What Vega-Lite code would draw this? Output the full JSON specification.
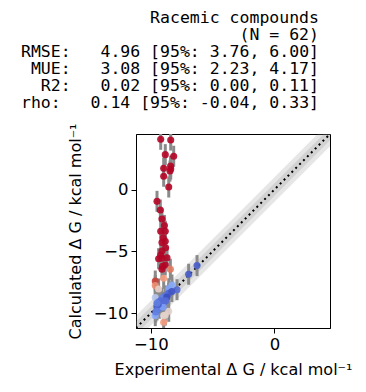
{
  "$schema": "https://vega.github.io/schema/vega-lite/v6.json",
  "width": 194,
  "height": 194,
  "autosize": {"type": "none"},
  "padding": {"left": 136, "top": 134, "right": 36, "bottom": 64},
  "background": "white",
  "title": {
    "text": ["Racemic compounds", "(N = 62)", "RMSE:\u00a0\u00a0\u00a04.96 [95%: 3.76, 6.00]", "MUE:\u00a0\u00a0\u00a03.08 [95%: 2.23, 4.17]", "R2:\u00a0\u00a0\u00a00.02 [95%: 0.00, 0.11]", "rho:\u00a0\u00a0\u00a00.14 [95%: -0.04, 0.33]"],
    "anchor": "end",
    "align": "right",
    "frame": "group",
    "font": "DejaVu Sans Mono",
    "fontSize": 16.5,
    "fontWeight": "normal",
    "lineHeight": 17,
    "color": "black",
    "dx": -11,
    "offset": 11
  },
  "config": {
    "view": {"stroke": "black", "strokeWidth": 1},
    "axis": {
      "grid": false,
      "domainColor": "black",
      "tickColor": "black",
      "tickSize": 5,
      "labelFont": "DejaVu Sans",
      "labelFontSize": 16.5,
      "labelColor": "black",
      "labelPadding": 3,
      "titleFont": "DejaVu Sans",
      "titleFontSize": 16,
      "titleFontWeight": "normal",
      "titleColor": "black"
    }
  },
  "datasets": {
    "diag": [
      {"x": -11.2, "y": -11.2, "lo1": -12.2, "hi1": -10.2, "lo05": -11.7, "hi05": -10.7},
      {"x": 4.5, "y": 4.5, "lo1": 3.5, "hi1": 5.5, "lo05": 4.0, "hi05": 5.0}
    ],
    "pts": [
      {"x": -9.20, "y": 4.07, "dy": 0.85, "err": 13.27},
      {"x": -8.39, "y": 4.01, "dy": 0.85, "err": 12.40},
      {"x": -8.83, "y": 2.83, "dy": 0.85, "err": 11.66},
      {"x": -8.15, "y": 2.70, "dy": 0.85, "err": 10.85},
      {"x": -8.96, "y": 1.72, "dy": 0.85, "err": 10.68},
      {"x": -8.39, "y": 1.67, "dy": 0.85, "err": 10.06},
      {"x": -8.45, "y": 1.50, "dy": 0.85, "err": 9.95},
      {"x": -8.96, "y": 1.08, "dy": 0.85, "err": 10.04},
      {"x": -8.55, "y": 0.21, "dy": 0.85, "err": 8.76},
      {"x": -8.40, "y": 1.90, "dy": 0.85, "err": 10.30},
      {"x": -9.50, "y": -0.95, "dy": 0.85, "err": 8.55},
      {"x": -9.23, "y": -1.65, "dy": 0.85, "err": 7.58},
      {"x": -9.10, "y": -2.38, "dy": 0.85, "err": 6.72},
      {"x": -8.90, "y": -2.90, "dy": 0.85, "err": 6.00},
      {"x": -9.20, "y": -3.37, "dy": 0.85, "err": 5.83},
      {"x": -8.83, "y": -3.37, "dy": 0.85, "err": 5.46},
      {"x": -9.00, "y": -3.90, "dy": 0.85, "err": 5.10},
      {"x": -8.83, "y": -4.18, "dy": 0.85, "err": 4.65},
      {"x": -9.10, "y": -4.29, "dy": 0.85, "err": 4.81},
      {"x": -8.80, "y": -4.70, "dy": 0.85, "err": 4.10},
      {"x": -9.10, "y": -4.97, "dy": 0.85, "err": 4.13},
      {"x": -9.20, "y": -5.30, "dy": 0.85, "err": 3.90},
      {"x": -9.37, "y": -5.59, "dy": 0.85, "err": 3.78},
      {"x": -9.10, "y": -5.55, "dy": 0.85, "err": 3.55},
      {"x": -8.69, "y": -5.51, "dy": 0.85, "err": 3.18},
      {"x": -8.83, "y": -6.10, "dy": 0.85, "err": 2.73},
      {"x": -9.10, "y": -6.45, "dy": 0.85, "err": 2.65},
      {"x": -9.05, "y": -6.20, "dy": 0.85, "err": 2.85},
      {"x": -8.42, "y": -6.45, "dy": 0.85, "err": 1.97},
      {"x": -8.96, "y": -7.18, "dy": 0.85, "err": 1.78},
      {"x": -9.64, "y": -7.40, "dy": 0.85, "err": 2.24},
      {"x": -9.64, "y": -7.77, "dy": 0.85, "err": 1.87},
      {"x": -9.37, "y": -8.04, "dy": 0.85, "err": 1.33},
      {"x": -6.26, "y": -6.15, "dy": 0.85, "err": 0.11},
      {"x": -6.94, "y": -6.85, "dy": 0.85, "err": 0.09},
      {"x": -8.29, "y": -7.72, "dy": 0.85, "err": 0.57},
      {"x": -7.88, "y": -8.10, "dy": 0.85, "err": 0.22},
      {"x": -8.55, "y": -8.02, "dy": 0.85, "err": 0.53},
      {"x": -8.55, "y": -8.40, "dy": 0.85, "err": 0.15},
      {"x": -8.83, "y": -8.60, "dy": 0.85, "err": 0.23},
      {"x": -9.64, "y": -8.74, "dy": 0.85, "err": 0.90},
      {"x": -9.10, "y": -8.80, "dy": 0.85, "err": 0.30},
      {"x": -8.96, "y": -9.12, "dy": 0.85, "err": 0.16},
      {"x": -9.37, "y": -9.07, "dy": 0.85, "err": 0.30},
      {"x": -9.23, "y": -9.26, "dy": 0.85, "err": 0.03},
      {"x": -9.50, "y": -9.47, "dy": 0.85, "err": 0.03},
      {"x": -9.50, "y": -9.74, "dy": 0.85, "err": 0.24},
      {"x": -9.10, "y": -9.30, "dy": 0.85, "err": 0.20},
      {"x": -8.96, "y": -10.20, "dy": 0.85, "err": 1.24},
      {"x": -8.55, "y": -9.85, "dy": 0.85, "err": 1.30},
      {"x": -8.83, "y": -10.15, "dy": 0.85, "err": 1.32},
      {"x": -9.64, "y": -10.20, "dy": 0.85, "err": 0.56},
      {"x": -8.96, "y": -10.74, "dy": 0.85, "err": 1.78},
      {"x": -9.30, "y": -9.60, "dy": 0.85, "err": 0.30},
      {"x": -9.00, "y": -9.50, "dy": 0.85, "err": 0.50},
      {"x": -9.40, "y": -9.30, "dy": 0.85, "err": 0.10},
      {"x": -8.70, "y": -8.70, "dy": 0.85, "err": 0.00},
      {"x": -8.30, "y": -8.25, "dy": 0.85, "err": 0.05},
      {"x": -9.60, "y": -9.90, "dy": 0.85, "err": 0.30},
      {"x": -9.20, "y": -9.00, "dy": 0.85, "err": 0.20},
      {"x": -8.80, "y": -9.00, "dy": 0.85, "err": 0.20},
      {"x": -9.50, "y": -9.20, "dy": 0.85, "err": 0.30}
    ]
  },
  "encoding": {
    "x": {
      "field": "x",
      "type": "quantitative",
      "scale": {"domain": [-11.2, 4.5], "nice": false, "zero": false},
      "axis": {"values": [-10, 0], "title": "Experimental Δ G / kcal mol⁻¹", "titlePadding": 9}
    }
  },
  "layer": [
    {
      "data": {"name": "diag"},
      "mark": {"type": "area", "color": "gray", "opacity": 0.2, "clip": true},
      "encoding": {
        "y": {"field": "lo1", "type": "quantitative", "scale": {"domain": [-11.2, 4.5], "nice": false, "zero": false}, "axis": {"values": [-10, -5, 0], "title": "Calculated Δ G / kcal mol⁻¹", "titlePadding": 10}},
        "y2": {"field": "hi1"}
      }
    },
    {
      "data": {"name": "diag"},
      "mark": {"type": "area", "color": "gray", "opacity": 0.2, "clip": true},
      "encoding": {
        "y": {"field": "lo05", "type": "quantitative", "title": "Calculated Δ G / kcal mol⁻¹"},
        "y2": {"field": "hi05"}
      }
    },
    {
      "data": {"name": "diag"},
      "mark": {"type": "line", "color": "black", "strokeWidth": 2, "strokeDash": [2, 3.5], "clip": true},
      "encoding": {
        "y": {"field": "y", "type": "quantitative", "title": "Calculated Δ G / kcal mol⁻¹"}
      }
    },
    {
      "data": {"name": "pts"},
      "mark": {"type": "errorbar", "color": "#8a8a8a", "thickness": 3, "clip": true},
      "encoding": {
        "y": {"field": "y", "type": "quantitative", "title": "Calculated Δ G / kcal mol⁻¹"},
        "yError": {"field": "dy"}
      }
    },
    {
      "data": {"name": "pts"},
      "mark": {"type": "circle", "size": 50, "opacity": 0.9, "clip": true},
      "encoding": {
        "y": {"field": "y", "type": "quantitative", "title": "Calculated Δ G / kcal mol⁻¹"},
        "color": {
          "field": "err",
          "type": "quantitative",
          "scale": {"domain": [0, 0.6, 1.2, 1.8, 2.4], "range": ["#3b4cc0", "#8db0fe", "#dddddd", "#f49a7b", "#b40426"], "clamp": true},
          "legend": null
        }
      }
    }
  ]
}
